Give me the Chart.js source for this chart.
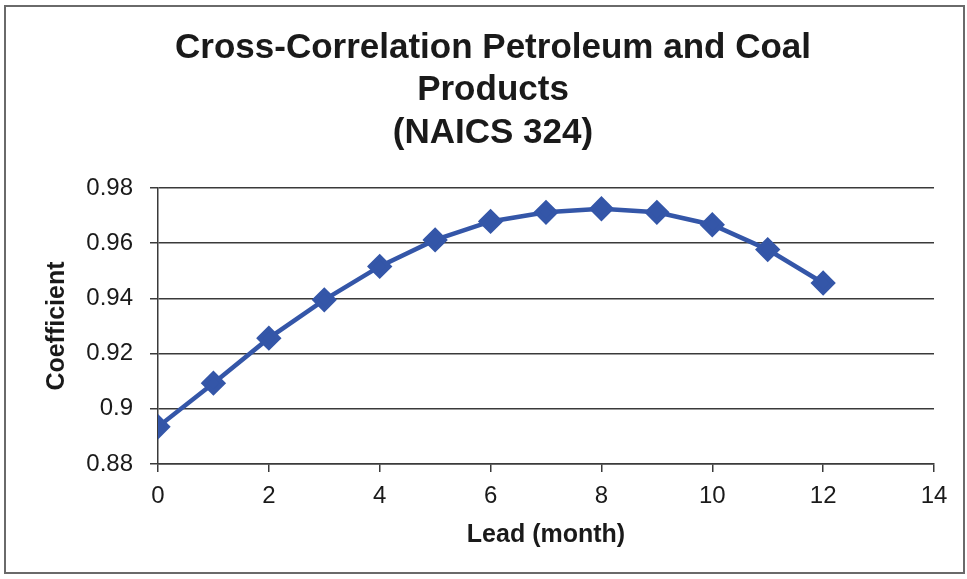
<!DOCTYPE html>
<html>
<head>
<meta charset="utf-8">
<script src="https://cdn.jsdelivr.net/npm/chart.js@4.4.1/dist/chart.umd.min.js"></script>
<style>
  html, body { margin: 0; padding: 0; background: #fff; }
  #wrap { width: 967px; height: 579px; }
</style>
</head>
<body>
<div id="wrap"><canvas id="xcorr" width="967" height="579"></canvas></div>
<script>
var leadMonths = [0, 1, 2, 3, 4, 5, 6, 7, 8, 9, 10, 11, 12];
var coefficients = [0.8935, 0.9093, 0.9256, 0.9395, 0.9516, 0.9612, 0.9679, 0.9712, 0.9725, 0.9712, 0.9667, 0.9577, 0.9456];
var titleLines = ['Cross-Correlation Petroleum and Coal', 'Products', '(NAICS 324)'];
var xTitle = 'Lead (month)';
var yTitle = 'Coefficient';

var FONT = "'Liberation Sans', Arial, sans-serif";
var GRID = '#3a3a3a';

var points = leadMonths.map(function (m, i) { return { x: m, y: coefficients[i] }; });

// white page + thin frame round the whole chart
var framePlugin = {
    id: 'frame',
    afterLayout: function (chart) {
        // title sits centred on the whole frame, a bit right of the plot centre
        if (chart.titleBlock) {
            chart.titleBlock.left += 22;
            chart.titleBlock.right += 22;
        }
    },
    beforeDraw: function (chart) {
        var ctx = chart.ctx;
        ctx.save();
        ctx.fillStyle = '#fff';
        ctx.fillRect(0, 0, chart.width, chart.height);
        ctx.strokeStyle = '#6a6a6a';
        ctx.lineWidth = 2;
        ctx.strokeRect(5, 6, 959, 567);
        ctx.restore();
    }
};

new Chart(document.getElementById('xcorr').getContext('2d'), {
    type: 'line',
    data: {
        datasets: [{
            data: points,
            borderColor: '#3456a8',
            backgroundColor: '#3456a8',
            borderWidth: 4.5,
            pointStyle: 'rectRot',
            pointRadius: 9.5,
            pointHoverRadius: 9.5,
            tension: 0,
            fill: false
        }]
    },
    options: {
        responsive: false,
        animation: false,
        events: [],
        layout: { padding: { left: 8, right: 33, top: 0, bottom: 29 } },
        plugins: {
            legend: { display: false },
            tooltip: { enabled: false },
            title: {
                display: true,
                text: titleLines,
                color: '#1a1a1a',
                font: { family: FONT, size: 35, weight: 'bold', lineHeight: 1.21 },
                padding: { top: 27, bottom: 34 }
            }
        },
        scales: {
            x: {
                type: 'linear',
                min: 0,
                max: 14,
                ticks: {
                    stepSize: 2,
                    color: '#1a1a1a',
                    padding: 10,
                    font: { family: FONT, size: 24 }
                },
                grid: { drawOnChartArea: false, drawTicks: true, tickLength: 8, color: GRID, lineWidth: 1.5 },
                border: { display: true, color: GRID, width: 1.5 },
                title: {
                    display: true,
                    text: xTitle,
                    color: '#1a1a1a',
                    font: { family: FONT, size: 25, weight: 'bold' },
                    padding: { top: 4, bottom: 0 }
                },
                afterFit: function (scale) { scale.height = 86; }
            },
            y: {
                min: 0.88,
                max: 0.98,
                ticks: {
                    stepSize: 0.02,
                    color: '#1a1a1a',
                    padding: 17,
                    font: { family: FONT, size: 24 },
                    callback: function (v) { return String(parseFloat(v.toFixed(2))); }
                },
                grid: { color: GRID, lineWidth: 1.5, tickLength: 8 },
                border: { display: true, color: GRID, width: 1.5 },
                title: {
                    display: true,
                    text: yTitle,
                    color: '#1a1a1a',
                    font: { family: FONT, size: 25, weight: 'bold' },
                    padding: { top: 34, bottom: 0 }
                },
                afterFit: function (scale) { scale.width = 150; }
            }
        }
    },
    plugins: [framePlugin]
});
</script>
</body>
</html>
